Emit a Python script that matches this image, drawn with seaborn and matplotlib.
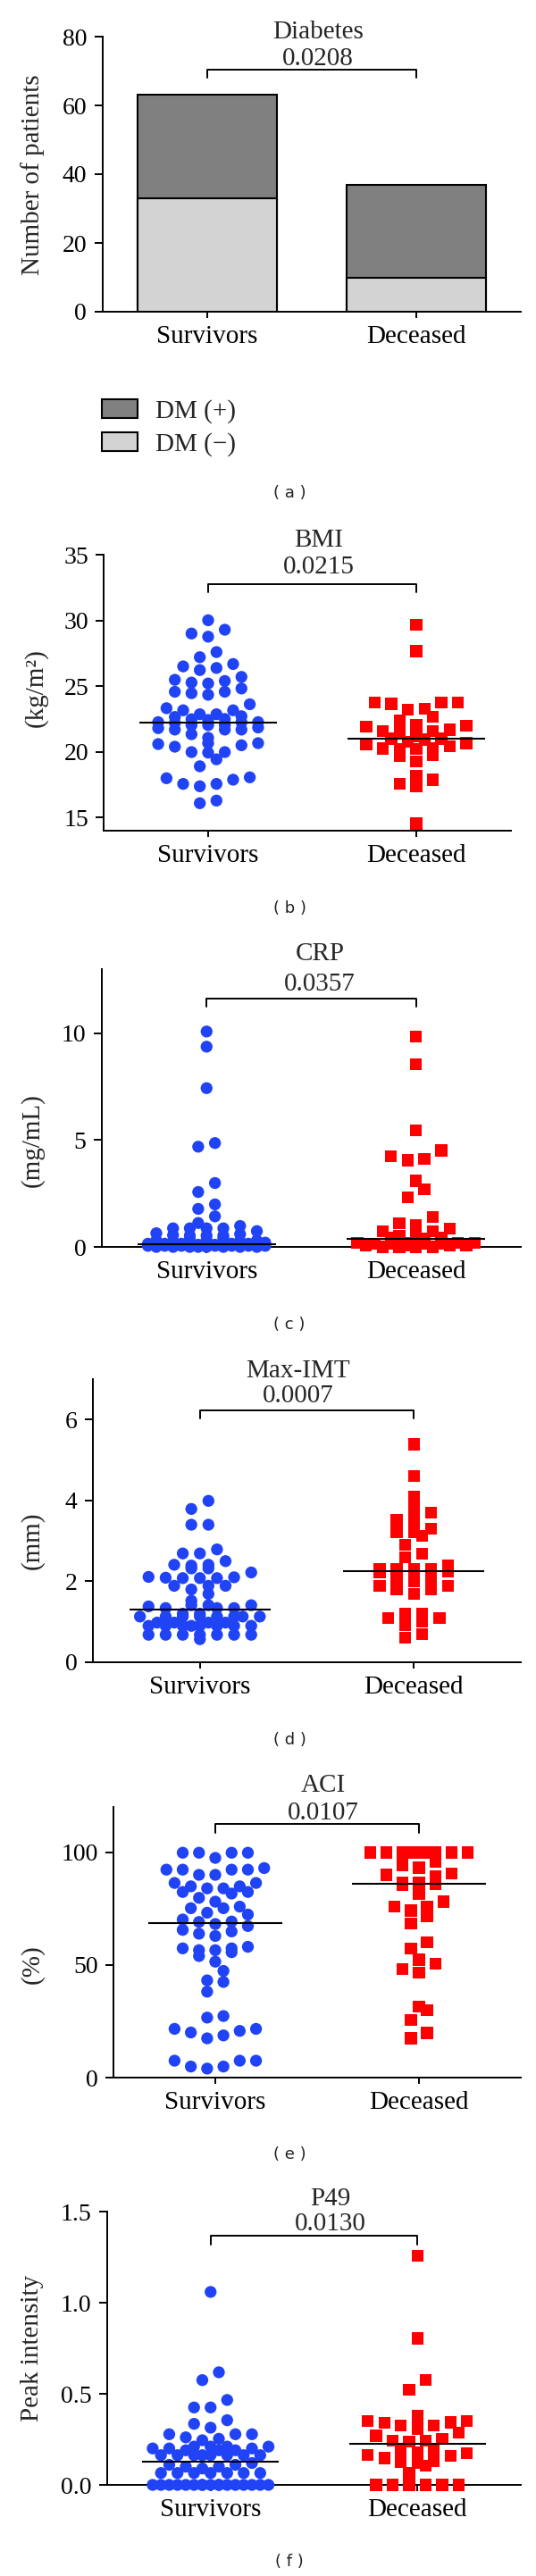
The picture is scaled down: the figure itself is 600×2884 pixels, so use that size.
import numpy as np
import pandas as pd
import matplotlib
matplotlib.use("Agg")
import matplotlib.pyplot as plt
import seaborn as sns
from matplotlib.patches import Patch

# ---------------- data ----------------
groups = ["Survivors", "Deceased"]

dm_neg = [33, 10]
dm_pos = [30, 27]

bmi_surv = [30.01, 29.29, 29.0, 28.76, 27.59, 27.2, 26.68, 26.38, 26.22, 26.5, 25.7, 25.48, 25.39,
            25.2, 25.27, 24.57, 24.46, 24.57, 24.82, 24.34, 23.62, 23.16, 23.16, 23.32, 22.86, 22.86,
            22.48, 22.03, 22.65, 22.03, 22.26, 21.69, 22.26, 21.69, 22.26, 21.69, 22.42, 21.85, 22.71,
            22.03, 21.34, 21.07, 20.66, 19.98, 20.59, 19.98, 20.39, 20.5, 19.43, 20.66, 19.94, 18.9,
            18.06, 17.88, 17.56, 17.38, 17.56, 17.99, 16.09, 16.29, 22.2, 21.8, 22.5]
bmi_dec = [29.67, 27.65, 23.73, 23.73, 23.73, 23.66, 23.28, 23.21, 22.66, 22.37, 22.03, 21.92, 21.98,
           21.69, 21.58, 21.58, 21.46, 21.0, 20.94, 21.0, 20.78, 20.67, 20.26, 20.26, 20.44, 20.56,
           20.22, 20.22, 19.76, 19.69, 19.26, 18.17, 17.88, 17.56, 17.38, 14.55, 21.2]
bmi_center = [22.2, 21.0]

crp_surv = [10.08, 9.37, 7.43, 4.86, 4.69, 2.99, 2.57, 1.99, 1.78, 1.43,
            1.12, 0.98, 0.87, 0.87, 0.87, 0.87,
            0.74, 0.64, 0.60, 0.53, 0.53, 0.53, 0.55,
            0.40, 0.35, 0.32, 0.30, 0.30, 0.28, 0.25,
            0.2, 0.2, 0.2, 0.2, 0.15, 0.15, 0.15, 0.15, 0.15,
            0.1, 0.1, 0.1, 0.1, 0.1, 0.1, 0.1, 0.1,
            0.05, 0.05, 0.05, 0.05, 0.05, 0.05, 0.05, 0.05,
            0.0, 0.0, 0.0, 0.0, 0.0, 0.0, 0.0, 0.0]
crp_dec = [9.83, 8.54, 5.45, 4.52, 4.24, 4.06, 4.13, 3.09, 2.70, 2.32, 1.39, 1.11, 1.0, 0.86, 0.72,
           0.72, 0.51, 0.51, 0.45, 0.45, 0.38,
           0.2, 0.2, 0.2, 0.2, 0.15, 0.15, 0.15, 0.15, 0.05, 0.05, 0.05, 0.05, 0.0, 0.0, 0.0, 0.0]
crp_center = [0.14, 0.38]

imt_surv = [3.99, 3.79, 3.40, 3.40, 2.79, 2.69, 2.69, 2.50, 2.41, 2.41, 2.39, 2.32, 2.32, 2.22, 2.10,
            2.11, 2.09, 2.08, 2.08, 2.08, 1.89, 1.89, 1.89, 1.80, 1.69, 1.52,
            1.41, 1.41, 1.38, 1.34, 1.34, 1.34, 1.41,
            1.2, 1.2, 1.13, 1.13, 1.13, 1.13, 1.13, 1.13, 1.13, 1.13,
            0.98, 0.98, 0.98, 0.98, 0.90, 0.90, 0.90, 0.90, 0.90, 0.90, 0.90, 0.90,
            0.68, 0.68, 0.68, 0.68, 0.68, 0.68, 0.68, 0.57]
imt_dec = [5.39, 4.60, 4.10, 3.81, 3.70, 3.51, 3.51, 3.22, 3.22, 3.13, 2.90, 2.69, 2.39, 2.30, 2.30,
           2.30, 2.22, 2.25, 2.30, 2.08, 2.0, 2.0, 1.89, 1.89, 1.80, 1.80, 1.69, 1.21, 1.21, 1.10,
           1.10, 0.92, 1.0, 0.69, 0.60, 3.3, 2.6]
imt_center = [1.30, 2.25]

aci_surv = [99.7, 99.7, 99.7, 99.7, 97.4, 92.2, 92.2, 92.2, 92.2, 92.9, 89.9, 89.9, 86.3, 86.3,
            84.8, 83.9, 83.9, 84.8, 82.3, 81.6, 82.3, 79.7, 78.0, 75.1, 75.1, 75.8, 73.1, 72.3,
            70.1, 69.2, 69.0, 67.2, 68.1, 64.8, 62.8, 63.8, 65.5, 58.0, 57.3, 56.5, 55.6, 56.5, 57.3,
            53.9, 51.4, 47.3, 42.4, 43.1, 38.1, 26.6, 27.3, 21.6, 20.7, 18.7, 17.4, 20.0, 21.6,
            7.5, 4.9, 4.0, 4.9, 7.5, 7.5]
aci_dec = [99.8, 99.8, 99.8, 99.8, 99.8, 99.8, 99.8, 99.8, 99.8, 94.2, 93.1, 95.8, 90.5, 89.2, 89.9,
           86.6, 85.9, 85.5, 86.6, 81.6, 78.0, 74.0, 75.8, 75.8, 71.4, 68.4, 59.9, 57.3, 50.6, 52.3,
           46.6, 48.1, 29.9, 31.5, 25.6, 19.8, 17.4]
aci_center = [68.4, 85.8]

p49_surv = [1.059, 0.618, 0.575, 0.466, 0.425, 0.425, 0.355, 0.335, 0.314, 0.278, 0.278, 0.253,
            0.245, 0.278, 0.261,
            0.21, 0.20, 0.21, 0.19, 0.20, 0.21, 0.19, 0.20, 0.21, 0.19,
            0.163, 0.163, 0.163, 0.163, 0.163, 0.163, 0.163, 0.163,
            0.10, 0.11, 0.12, 0.10, 0.11, 0.09,
            0.065, 0.065, 0.065, 0.065, 0.065, 0.065, 0.065,
            0.0, 0.0, 0.0, 0.0, 0.0, 0.0, 0.0, 0.0, 0.0, 0.0, 0.0, 0.0, 0.0, 0.0, 0.0, 0.0, 0.0]
p49_dec = [1.258, 0.804, 0.575, 0.523, 0.379, 0.351, 0.343, 0.327, 0.327, 0.340, 0.351, 0.356,
           0.307, 0.286, 0.27, 0.242, 0.237, 0.242, 0.253, 0.191, 0.175, 0.18, 0.191, 0.158,
           0.131, 0.123, 0.106, 0.126, 0.147, 0.163, 0.065, 0.0, 0.0, 0.0, 0.0, 0.0, 0.0]
p49_center = [0.129, 0.227]

titles = ["Diabetes", "BMI", "CRP", "Max-IMT", "ACI", "P49"]
pvals = ["0.0208", "0.0215", "0.0357", "0.0007", "0.0107", "0.0130"]
ylabels = ["Number of patients", "(kg/m²)", "(mg/mL)", "(mm)", "(%)", "Peak intensity"]
captions = ["( a )", "( b )", "( c )", "( d )", "( e )", "( f )"]
legend_labels = ["DM (+)", "DM (\u2212)"]

# ---------------- style ----------------
W, H = 600, 2884
sns.set_theme(style="ticks")
plt.rcParams["font.family"] = ["Liberation Serif", "DejaVu Serif"]
BLUE = "#2043F5"
RED = "#FF0000"
LW = 1.4

fig = plt.figure(figsize=(W / 100, H / 100), dpi=100)

# pixel layout: left, right, top, bottom, ylim, yticks, xlim-right
panels = [
    dict(l=114.6, r=582.7, t=41, b=349, ylim=(0, 80), yt=[0, 20, 40, 60, 80], xr=1.5,
         txt=(36, 66, 78, 87), tx=0.53, ylab=(36.5, 196), cap=552),
    dict(l=116.5, r=572, t=621, b=930, ylim=(14, 35), yt=[15, 20, 25, 30, 35], xr=1.455,
         txt=(605, 635, 654, 663), tx=0.53, ylab=(40, 770), cap=1017),
    dict(l=114, r=583, t=1085, b=1396, ylim=(0, 13), yt=[0, 5, 10], xr=1.5,
         txt=(1068, 1102, 1118, 1127), tx=0.54, ylab=(36.5, 1277), cap=1483),
    dict(l=104, r=583, t=1544, b=1861, ylim=(0, 7), yt=[0, 2, 4, 6], xr=1.5,
         txt=(1535, 1563, 1579, 1588), tx=0.46, ylab=(36.5, 1725), cap=1948),
    dict(l=127, r=583, t=2023, b=2326, ylim=(0, 120), yt=[0, 50, 100], xr=1.5,
         txt=(1999, 2030, 2042, 2052), tx=0.53, ylab=(36.5, 2199), cap=2412),
    dict(l=120, r=583, t=2476, b=2782, ylim=(0, 1.5), yt=[0, 0.5, 1.0, 1.5], xr=1.5,
         txt=(2462, 2490, 2503, 2513), tx=0.58, ylab=(36.5, 2629), cap=2868),
]


def py2data(p, ypx):
    lo, hi = p["ylim"]
    return lo + (p["b"] - ypx) / (p["b"] - p["t"]) * (hi - lo)


def grid_layout(values, pos, px_per_unit, h_px=11.5, step=0.08):
    """Prism-like scatter: bin values into rows and spread each row around the category."""
    vals = np.sort(np.asarray(values, float))
    h = h_px / px_per_unit
    xs, ys = [], []
    i, n = 0, len(vals)
    while i < n:
        j = i
        while j < n and vals[j] - vals[i] <= h:
            j += 1
        b = vals[i:j]
        k, layer = 0, 0
        while k < len(b):
            cap = 7 if layer % 2 == 0 else 8
            c = min(cap, len(b) - k)
            lv = b[k:k + c]
            offs = (np.arange(c) - (c - 1) / 2) * step
            order = np.argsort(np.abs(offs) + 1e-6 * offs, kind="stable")
            for v, o in zip(lv, offs[order]):
                xs.append(pos + o)
                ys.append(v)
            k += c
            layer += 1
        i = j
    return xs, ys


axes = []
for idx, p in enumerate(panels):
    ax = fig.add_axes([p["l"] / W, 1 - p["b"] / H, (p["r"] - p["l"]) / W, (p["b"] - p["t"]) / H])
    axes.append(ax)

# ---- panel a: stacked bars ----
ax = axes[0]
totals = [a + b for a, b in zip(dm_neg, dm_pos)]
sns.barplot(x=groups, y=totals, color="#808080", width=0.667, edgecolor="black",
            linewidth=1.5, saturation=1, errorbar=None, ax=ax)
sns.barplot(x=groups, y=dm_neg, color="#D3D3D3", width=0.667, edgecolor="black",
            linewidth=1.5, saturation=1, errorbar=None, ax=ax)

# ---- scatter panels ----
scatter_data = [
    (bmi_surv, bmi_dec, bmi_center),
    (crp_surv, crp_dec, crp_center),
    (imt_surv, imt_dec, imt_center),
    (aci_surv, aci_dec, aci_center),
    (p49_surv, p49_dec, p49_center),
]
for k, (surv, dec, cen) in enumerate(scatter_data):
    p = panels[k + 1]
    ax = axes[k + 1]
    ppu = (p["b"] - p["t"]) / (p["ylim"][1] - p["ylim"][0])
    for gi, (vals, col, mk) in enumerate([(surv, BLUE, "o"), (dec, RED, "s")]):
        xs, ys = grid_layout(vals, gi, ppu)
        df = pd.DataFrame({"x": xs, "y": ys})
        sns.scatterplot(data=df, x="x", y="y", ax=ax, marker=mk, s=92, color=col,
                        edgecolor="none", linewidth=0, clip_on=False, zorder=3, legend=False)
        ax.plot([gi - 0.33, gi + 0.33], [cen[gi], cen[gi]], color="black", lw=1.5,
                zorder=4, solid_capstyle="butt")

# ---- common styling ----
for idx, (ax, p) in enumerate(zip(axes, panels)):
    ax.set_xlim(-0.5, p["xr"])
    ax.set_ylim(*p["ylim"])
    ax.set_xticks([0, 1])
    ax.set_xticklabels(groups)
    ax.set_yticks(p["yt"])
    if idx == 5:
        ax.set_yticklabels(["0.0", "0.5", "1.0", "1.5"])
    else:
        ax.set_yticklabels([str(v) for v in p["yt"]])
    ax.set_xlabel("")
    ax.set_ylabel(ylabels[idx], fontsize=21, va="center")
    ax.yaxis.set_label_coords(p["ylab"][0] / W, 1 - p["ylab"][1] / H, transform=fig.transFigure)
    sns.despine(ax=ax)
    for s in ["left", "bottom"]:
        ax.spines[s].set_linewidth(LW)
        ax.spines[s].set_color("black")
    ax.tick_params(axis="y", direction="out", length=6.5, width=LW, pad=6, labelsize=20,
                   color="black", labelcolor="black")
    ax.tick_params(axis="x", direction="out", length=5, width=LW, pad=5.5, labelsize=21,
                   color="black", labelcolor="black")
    ax.set_facecolor("none")
    ax.grid(False)

    # title, p-value and bracket
    y_title, y_p, y_br, y_leg = [py2data(p, v) for v in p["txt"]]
    ax.text(p["tx"], y_title, titles[idx], ha="center", va="center", fontsize=21, clip_on=False)
    ax.text(p["tx"], y_p, pvals[idx], ha="center", va="center", fontsize=21, clip_on=False)
    ax.plot([0, 0, 1, 1], [y_leg, y_br, y_br, y_leg], color="black", lw=LW, clip_on=False)

    fig.text(324 / W, 1 - p["cap"] / H, captions[idx], ha="center", va="center",
             fontsize=13, family="DejaVu Sans", color="#222222")

# legend for panel a
handles = [Patch(facecolor="#808080", edgecolor="black", linewidth=1.5),
           Patch(facecolor="#D3D3D3", edgecolor="black", linewidth=1.5)]
fig.legend(handles, legend_labels, loc="upper left", bbox_to_anchor=(114 / W, 1 - 447 / H),
           frameon=False, fontsize=21, handlelength=1.36, handleheight=0.72,
           handletextpad=0.7, labelspacing=0.35, borderpad=0, borderaxespad=0)

fig.savefig("out.png", dpi=100, facecolor="white")
